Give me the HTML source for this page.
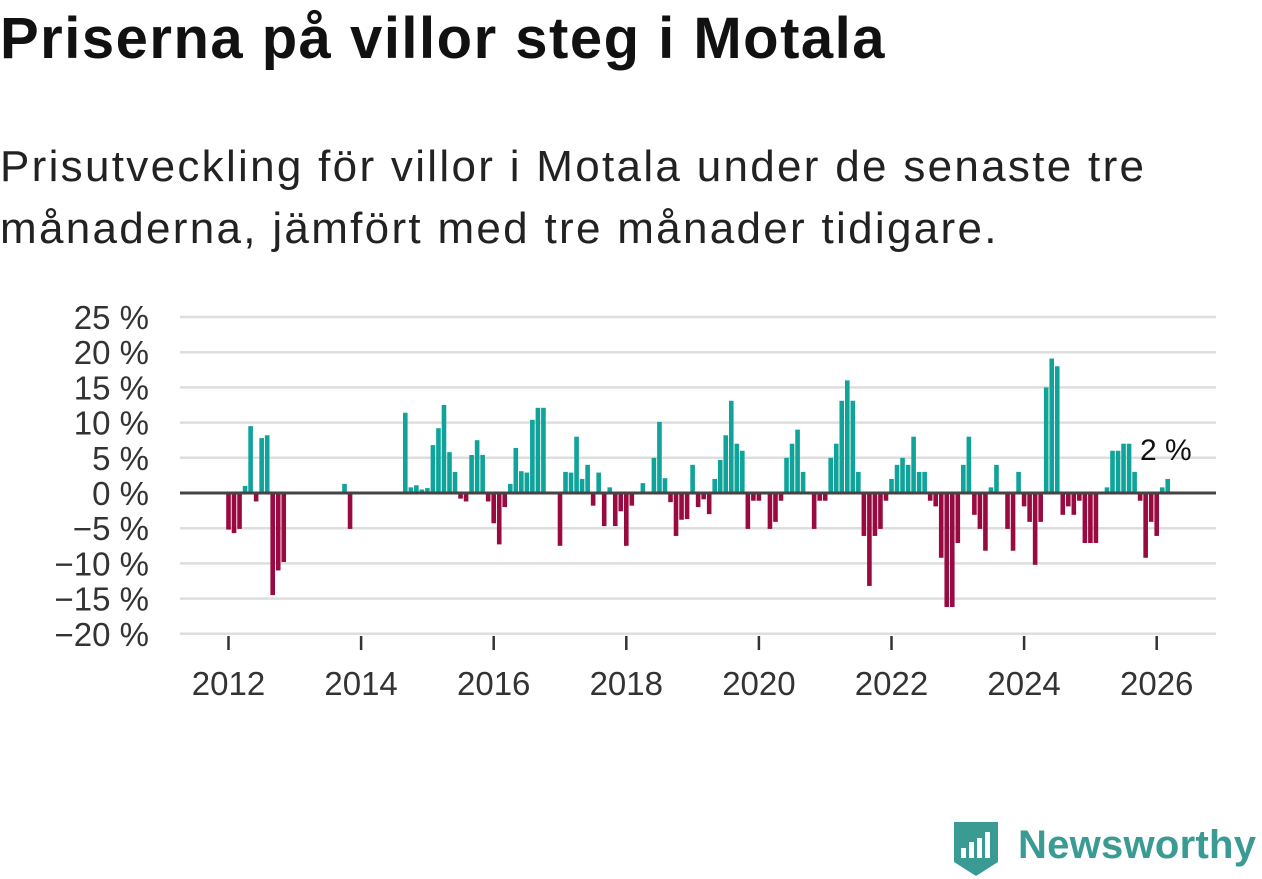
<!DOCTYPE html>
<html><head><meta charset="utf-8">
<style>
body{margin:0;width:1262px;height:879px;background:#fff;overflow:hidden;font-family:"Liberation Sans",sans-serif;color:#111}
#title{position:absolute;left:0;top:5px;font-size:58px;font-weight:bold;white-space:nowrap;letter-spacing:1.5px}
#sub{position:absolute;left:0;top:136px;font-size:44px;line-height:62px;width:1262px;color:#222;white-space:nowrap;letter-spacing:2.3px}
svg{position:absolute;left:0;top:0}
#logo{position:absolute;left:952px;top:818px;width:310px;height:60px}
</style></head><body>
<div id="title">Priserna på villor steg i Motala</div>
<div id="sub">Prisutveckling för villor i Motala under de senaste tre<br>månaderna, jämfört med tre månader tidigare.</div>
<svg id="chart" width="1262" height="879"></svg>
<div id="logo">
<svg width="310" height="60" style="position:absolute;left:0;top:0">
<path d="M2 4 H46 V44 L24 58 L2 44 Z" fill="#3a9a94"/>
<rect x="9" y="30" width="5" height="10" fill="#fff"/><rect x="17" y="24" width="5" height="16" fill="#fff"/><rect x="25" y="20" width="5" height="20" fill="#fff"/><rect x="33" y="14" width="5" height="26" fill="#fff"/>
<text x="66" y="40" font-size="40" font-weight="bold" fill="#3a9a94" textLength="238" font-family="Liberation Sans, sans-serif">Newsworthy</text>
</svg></div>
<script>
const values = [
-5.2,-5.7,-5.1,1.0,9.5,-1.2,7.8,8.2,-14.5,-11,-9.8,
null,null,null,null,null,null,null,null,null,null,
1.3,-5.1,
null,null,null,null,null,null,null,null,null,
11.4,0.8,1.1,0.5,0.7,6.8,9.2,12.5,5.8,3.0,-0.8,-1.2,5.4,7.5,5.4,-1.2,-4.3,-7.3,-2.0,1.3,6.4,3.1,2.9,10.4,12.1,12.1,
null,null,
-7.5,3.0,2.9,8.0,2.0,4.0,-1.8,2.9,-4.7,0.8,-4.7,-2.6,-7.5,-1.8,null,1.4,null,5.0,10.1,2.1,-1.3,-6.1,-3.8,-3.7,4.0,-2.0,-0.9,-3.0,2.0,4.7,8.2,13.1,7.0,6.0,-5.1,-1.1,-1.1,null,-5.1,-4.1,-1.1,5.0,7.0,9.0,3.0,null,
-5.1,-1.1,-1.1,5.0,7.0,13.1,16.0,13.1,3.0,-6.1,-13.2,-6.1,-5.1,-1.1,2.0,4.0,5.0,4.0,8.0,3.0,3.0,-1.1,-1.9,-9.2,-16.2,-16.2,-7.1,4.0,8.0,-3.1,-5.1,-8.2,0.8,4.0,null,
-5.1,-8.2,3.0,-1.9,-4.1,-10.2,-4.1,15.0,19.1,18.0,-3.1,-1.9,-3.1,-1.1,-7.1,-7.1,-7.1,null,0.8,6.0,6.0,7.0,7.0,3.0,-1.1,-9.2,-4.1,-6.1,0.8,2.0
];
const startYear = 2012;
const yTicks = [25,20,15,10,5,0,-5,-10,-15,-20];
const xTicks = [2012,2014,2016,2018,2020,2022,2024,2026];
const lastLabel = "2 %";

const NS="http://www.w3.org/2000/svg";
const svg=document.getElementById('chart');
const y0=493, pxPer=7.04;
const y=v=>y0-v*pxPer;
const x=yr=>228.5+(yr-2012)*66.3;
function el(t,a){const e=document.createElementNS(NS,t);for(const k in a)e.setAttribute(k,a[k]);svg.appendChild(e);return e;}
yTicks.forEach(t=>{
  if(t!==0){const g=el('line',{x1:180,x2:1216,y1:y(t),y2:y(t),stroke:'#dedede','stroke-width':2.5});
  
  }
  const lab=el('text',{x:149,y:y(t)+12,'text-anchor':'end','font-size':33,fill:'#333','font-family':'Liberation Sans, sans-serif'});
  lab.textContent=(t<0?'\u2212'+(-t):t)+' %';
  
  
});
xTicks.forEach(t=>{
  const tk=el('line',{x1:x(t),x2:x(t),y1:636,y2:650,stroke:'#333','stroke-width':2.5});
  
  
  const lab=el('text',{x:x(t),y:695,'text-anchor':'middle','font-size':33,fill:'#333','font-family':'Liberation Sans, sans-serif'});
  lab.textContent=t;
  
  
});
values.forEach((v,i)=>{
  if(v===null)return;
  const cx=x(startYear+i/12);
  const top=Math.min(y(v),y0), h=Math.abs(y(v)-y0);
  const b=el('rect',{x:cx-2.3,y:top,width:4.6,height:h,fill:v>=0?'#0fa39a':'#990a40'});
  
  
});
const z=el('line',{x1:180,x2:1216,y1:y0,y2:y0,stroke:'#444','stroke-width':3});


const ll=el('text',{x:1140,y:460,'font-size':30,fill:'#111','font-family':'Liberation Sans, sans-serif'});
ll.textContent=lastLabel;


</script>
</body></html>
